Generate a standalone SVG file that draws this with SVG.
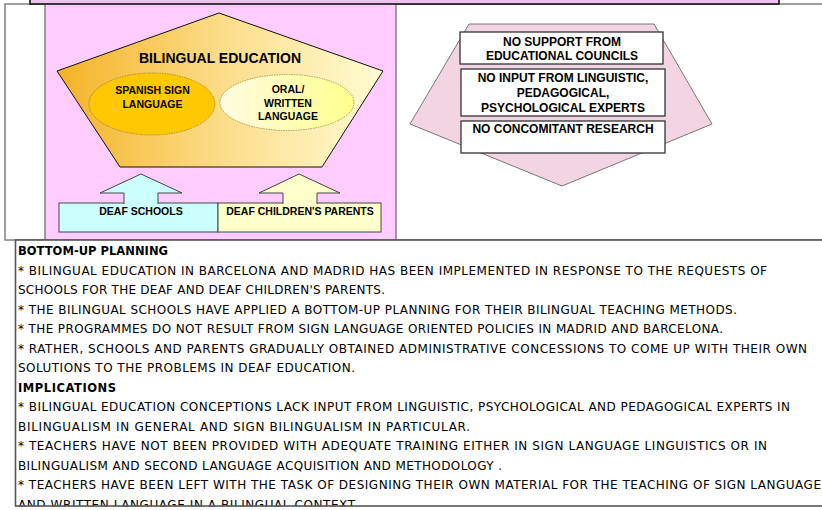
<svg xmlns="http://www.w3.org/2000/svg" width="822" height="510" viewBox="0 0 822 510">
<defs>
<linearGradient id="penta" x1="0" y1="0" x2="1" y2="0">
<stop offset="0" stop-color="#f4b326"/>
<stop offset="0.5" stop-color="#fcdc88"/>
<stop offset="1" stop-color="#fffcd4"/>
</linearGradient>
<linearGradient id="oral" x1="0" y1="0" x2="1" y2="0">
<stop offset="0" stop-color="#fffbe2"/>
<stop offset="1" stop-color="#ffff8c"/>
</linearGradient>
<clipPath id="tclip"><rect x="16" y="241" width="806" height="265.5"/></clipPath>
<style>
.lbl{font-family:"Liberation Sans",Arial,sans-serif;font-weight:bold;fill:#000;text-anchor:middle}
.body{font-family:"DejaVu Sans",sans-serif;font-size:12px;fill:#000}
.hd{font-family:"DejaVu Sans",sans-serif;font-size:11.5px;font-weight:bold;fill:#000}
.box{fill:#fff;stroke:#333;stroke-width:1.3}
.arr{stroke:#444;stroke-width:1}
</style>
</defs>
<rect width="822" height="510" fill="#fff"/>

<g id="frame">
<rect x="5" y="4" width="830" height="236" fill="#fff" stroke="#808080" stroke-width="1.5"/>
</g>

<g id="panel">
<rect x="45" y="-5" width="351" height="245" fill="#ffccff" stroke="#666" stroke-width="1.2"/>
</g>

<g id="top-bar">
<rect x="30" y="-6" width="749" height="10" fill="#f0c2f0" stroke="#111" stroke-width="1.6"/>
</g>

<g id="bilingual-education">
<polygon points="219,13 383,71 322,167 120,167 57,71" fill="url(#penta)" stroke="#111" stroke-width="1"/>
<text class="lbl" x="220" y="63" font-size="14">BILINGUAL EDUCATION</text>
</g>

<g id="spanish-sign-language">
<ellipse cx="152" cy="104" rx="63" ry="31" fill="#ffc800" stroke="#8a7a40" stroke-width="0.7" stroke-dasharray="1.5,1"/>
<text class="lbl" x="152.5" y="94" font-size="10.5">SPANISH SIGN</text>
<text class="lbl" x="152.5" y="107.5" font-size="10.5">LANGUAGE</text>
</g>

<g id="oral-written-language">
<ellipse cx="287" cy="102.5" rx="67" ry="28" fill="url(#oral)" stroke="#8a7a40" stroke-width="0.7" stroke-dasharray="1.5,1"/>
<text class="lbl" x="288" y="93" font-size="10.5">ORAL/</text>
<text class="lbl" x="288" y="106.5" font-size="10.5">WRITTEN</text>
<text class="lbl" x="288" y="120" font-size="10.5">LANGUAGE</text>
</g>

<g id="deaf-schools">
<rect x="59" y="203" width="159" height="29" fill="#ccffff" stroke="#444" stroke-width="1"/>
<text class="lbl" x="141" y="214.5" font-size="10.5">DEAF SCHOOLS</text>
</g>

<g id="deaf-childrens-parents">
<rect x="218" y="203" width="163" height="29" fill="#ffffcc" stroke="#444" stroke-width="1"/>
<text class="lbl" x="300" y="214.5" font-size="10.5">DEAF CHILDREN'S PARENTS</text>
</g>

<g id="connectors">
<path class="arr" d="M124,204 L124,193 L100,193 L141,174 L182,193 L158,193 L158,204" fill="#ccffff"/>
<path class="arr" d="M283,204 L283,193 L259,193 L299,174 L340,193 L317,193 L317,204" fill="#ffffcc"/>
</g>

<g id="obstacles">
<polygon points="469,24 654,24 712,124 562,186 410,124" fill="#f2d4e2" stroke="#777" stroke-width="1"/>
</g>

<g id="no-support">
<rect class="box" x="460" y="32" width="203" height="32"/>
<text class="lbl" x="562" y="46" font-size="12">NO SUPPORT FROM</text>
<text class="lbl" x="562" y="60" font-size="12">EDUCATIONAL COUNCILS</text>
</g>

<g id="no-input">
<rect class="box" x="461" y="69" width="204" height="47"/>
<text class="lbl" x="563" y="82" font-size="12">NO INPUT FROM LINGUISTIC,</text>
<text class="lbl" x="563" y="97" font-size="12">PEDAGOGICAL,</text>
<text class="lbl" x="563" y="112" font-size="12">PSYCHOLOGICAL EXPERTS</text>
</g>

<g id="no-research">
<rect class="box" x="461" y="121" width="204" height="32"/>
<text class="lbl" x="563" y="133" font-size="12">NO CONCOMITANT RESEARCH</text>
</g>

<g id="text-box">
<rect x="15.5" y="240" width="820" height="266" fill="#fff"/>
<g clip-path="url(#tclip)">
<text class="hd" x="18" y="255" textLength="150">BOTTOM-UP PLANNING</text>
<text class="body" x="18" y="274.5" textLength="749">* BILINGUAL EDUCATION  IN BARCELONA AND MADRID HAS BEEN IMPLEMENTED IN RESPONSE TO THE REQUESTS OF</text>
<text class="body" x="18" y="294" textLength="367">SCHOOLS FOR THE DEAF AND DEAF CHILDREN'S PARENTS.</text>
<text class="body" x="18" y="313.5" textLength="719">* THE BILINGUAL SCHOOLS HAVE APPLIED A BOTTOM-UP PLANNING FOR THEIR BILINGUAL TEACHING METHODS.</text>
<text class="body" x="18" y="333" textLength="705">* THE PROGRAMMES DO NOT RESULT FROM SIGN LANGUAGE ORIENTED POLICIES IN MADRID AND BARCELONA.</text>
<text class="body" x="18" y="352.5" textLength="789">* RATHER, SCHOOLS AND PARENTS GRADUALLY OBTAINED ADMINISTRATIVE CONCESSIONS TO COME UP WITH THEIR OWN</text>
<text class="body" x="18" y="372" textLength="337">SOLUTIONS TO THE PROBLEMS IN DEAF EDUCATION.</text>
<text class="hd" x="18" y="391.5" textLength="98">IMPLICATIONS</text>
<text class="body" x="18" y="411" textLength="772">* BILINGUAL EDUCATION CONCEPTIONS LACK INPUT FROM LINGUISTIC, PSYCHOLOGICAL AND PEDAGOGICAL EXPERTS IN</text>
<text class="body" x="18" y="430.5" textLength="452">BILINGUALISM IN GENERAL AND SIGN BILINGUALISM IN PARTICULAR.</text>
<text class="body" x="18" y="450" textLength="749">* TEACHERS HAVE NOT BEEN PROVIDED WITH ADEQUATE TRAINING EITHER IN SIGN LANGUAGE LINGUISTICS OR IN</text>
<text class="body" x="18" y="469.5" textLength="484">BILINGUALISM AND SECOND LANGUAGE ACQUISITION AND METHODOLOGY .</text>
<text class="body" x="18" y="489" textLength="803">* TEACHERS HAVE BEEN LEFT WITH THE TASK OF DESIGNING THEIR OWN MATERIAL FOR  THE TEACHING OF SIGN LANGUAGE</text>
<text class="body" x="18" y="508.5" textLength="337">AND WRITTEN LANGUAGE IN A BILINGUAL CONTEXT</text>
</g>
<rect x="15.5" y="240" width="820" height="266" fill="none" stroke="#555" stroke-width="1.6"/>
</g>
</svg>
